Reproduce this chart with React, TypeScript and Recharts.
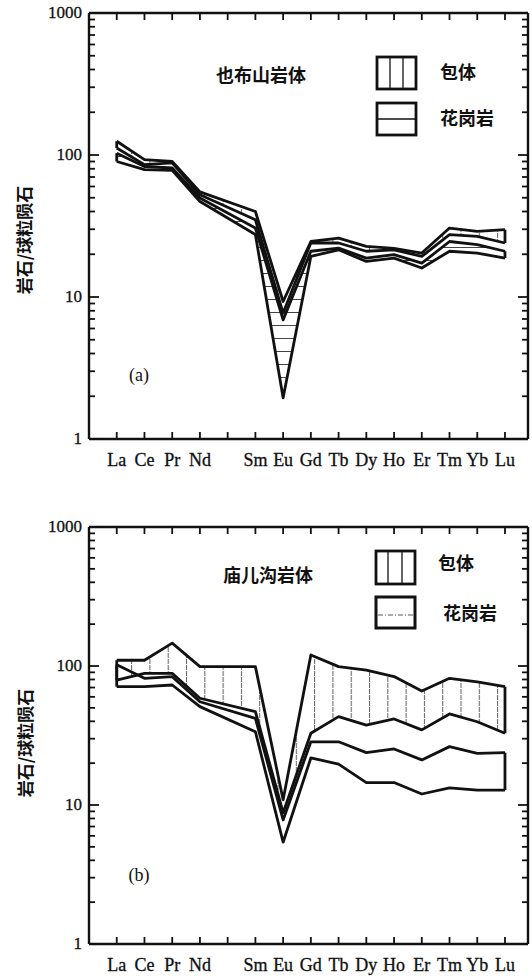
import React from 'react';
import { ComposedChart, Line, Area, XAxis, YAxis, ReferenceLine } from 'recharts';

// REE order incl. Pm (tick only, no data)
const REE = ['La', 'Ce', 'Pr', 'Nd', 'Pm', 'Sm', 'Eu', 'Gd', 'Tb', 'Dy', 'Ho', 'Er', 'Tm', 'Yb', 'Lu'];
const ELEMENTS = ['La', 'Ce', 'Pr', 'Nd', 'Sm', 'Eu', 'Gd', 'Tb', 'Dy', 'Ho', 'Er', 'Tm', 'Yb', 'Lu'];
const Y_TICKS = [1, 2, 3, 4, 5, 6, 7, 8, 9, 10, 20, 30, 40, 50, 60, 70, 80, 90, 100, 200, 300, 400, 500, 600, 700, 800, 900, 1000];
const Y_LABELS = [1, 10, 100, 1000];

// (a) 也布山岩体
const A_ENCLAVE_HI = [125, 92.7, 90, 55, 40, 9.3, 24.6, 26, 22.7, 22, 20.4, 30.6, 29, 29.8];
const A_ENCLAVE_LO = [112, 85.5, 88, 52.5, 35, 7.7, 24, 24, 21, 21.5, 19.3, 27.5, 26.7, 24];
const A_GRANITE_HI = [103, 83, 81, 49.8, 30.6, 6.9, 21, 22.1, 18.8, 19.9, 17.3, 24.6, 23.4, 21];
const A_GRANITE_LO = [90, 78.8, 78, 47, 27.5, 1.95, 19.3, 21.5, 17.8, 18.8, 16, 21, 20.4, 18.8];

// (b) 庙儿沟岩体
const B_ENCLAVE_HI = [110, 110, 146, 99, 99, 10.9, 120, 99, 93.5, 84, 66, 81.5, 77, 71];
const B_ENCLAVE_LO = [79, 88.6, 88.6, 58.6, 46.9, 8.8, 32.8, 43.2, 37.6, 41.6, 34.7, 45.2, 39.7, 32.8];
const B_GRANITE_HI = [102, 81.5, 83.8, 55.3, 42, 7.8, 28.5, 28.5, 23.8, 25.3, 21.1, 26.3, 23.5, 23.8];
const B_GRANITE_LO = [71, 71, 73, 51, 33.7, 5.4, 21.8, 19.7, 14.5, 14.5, 12, 13.3, 12.8, 12.8];

const INK = '#111';
const SERIF = '"Liberation Serif", "DejaVu Serif", serif';
const CJK = '"Noto Sans CJK SC", "Noto Sans", sans-serif';
const X_DOMAIN = [-1, 14.83];
const X_TICKS = REE.map((_, i) => i);

const buildRows = (eHi: number[], eLo: number[], gHi: number[], gLo: number[]) =>
  ELEMENTS.map((el, i) => ({
    x: REE.indexOf(el),
    eHi: eHi[i],
    eLo: eLo[i],
    gHi: gHi[i],
    gLo: gLo[i],
    eBand: [eLo[i], eHi[i]],
    gBand: [gLo[i], gHi[i]],
  }));

const rowsA = buildRows(A_ENCLAVE_HI, A_ENCLAVE_LO, A_GRANITE_HI, A_GRANITE_LO);
const rowsB = buildRows(B_ENCLAVE_HI, B_ENCLAVE_LO, B_GRANITE_HI, B_GRANITE_LO);

const LeftTick = (p: any) => {
  const v = p.payload.value;
  const major = Y_LABELS.includes(v);
  return (
    <g>
      <line x1={p.x} x2={p.x + (major ? 10 : 6)} y1={p.y} y2={p.y} stroke={INK} strokeWidth={1.8} />
      {major && (
        <text x={p.x - 7} y={p.y + 5} textAnchor="end" fontFamily={SERIF} fontSize={17} fill={INK} stroke={INK} strokeWidth={0.3}>
          {v}
        </text>
      )}
    </g>
  );
};

const RightTick = (p: any) => {
  const major = Y_LABELS.includes(p.payload.value);
  return <line x1={p.x} x2={p.x - (major ? 10 : 6)} y1={p.y} y2={p.y} stroke={INK} strokeWidth={1.8} />;
};

const BottomTick = (p: any) => {
  const name = REE[p.payload.value];
  return (
    <g>
      <line x1={p.x} x2={p.x} y1={p.y} y2={p.y - 7} stroke={INK} strokeWidth={1.8} />
      {name !== 'Pm' && (
        <text x={p.x} y={p.y + 27} textAnchor="middle" fontFamily={SERIF} fontSize={18} fill={INK} stroke={INK} strokeWidth={0.3}>
          {name}
        </text>
      )}
    </g>
  );
};

const TopTick = (p: any) => <line x1={p.x} x2={p.x} y1={p.y} y2={p.y + 7} stroke={INK} strokeWidth={1.8} />;

const AXIS = { stroke: INK, strokeWidth: 2.4 };

const Panel = ({ rows, height, topH, bottomH, graniteFill }: any) => {
  const first = rows[0];
  const last = rows[rows.length - 1];
  const edge = (x: number, lo: number, hi: number, key: string) => (
    <ReferenceLine
      key={key}
      xAxisId="b"
      yAxisId="l"
      segment={[{ x, y: lo }, { x, y: hi }]}
      stroke={INK}
      strokeWidth={2.8}
      ifOverflow="visible"
    />
  );
  const line = (key: string) => (
    <Line
      key={key}
      xAxisId="b"
      yAxisId="l"
      dataKey={key}
      type="linear"
      stroke={INK}
      strokeWidth={2.8}
      strokeLinejoin="round"
      dot={false}
      isAnimationActive={false}
    />
  );
  return (
    <ComposedChart width={532} height={height} data={rows} margin={{ top: 0, right: 0, bottom: 0, left: 0 }}>
      <XAxis
        xAxisId="b"
        type="number"
        dataKey="x"
        domain={X_DOMAIN}
        allowDataOverflow
        ticks={X_TICKS}
        interval={0}
        orientation="bottom"
        height={bottomH}
        tickSize={0}
        tickMargin={0}
        tickLine={false}
        tick={<BottomTick />}
        axisLine={AXIS}
      />
      <XAxis
        xAxisId="t"
        type="number"
        dataKey="x"
        domain={X_DOMAIN}
        allowDataOverflow
        ticks={X_TICKS}
        interval={0}
        orientation="top"
        height={topH}
        tickSize={0}
        tickMargin={0}
        tickLine={false}
        tick={<TopTick />}
        axisLine={AXIS}
      />
      <YAxis
        yAxisId="l"
        scale="log"
        type="number"
        domain={[1, 1000]}
        allowDataOverflow
        ticks={Y_TICKS}
        interval={0}
        width={89}
        tickSize={0}
        tickMargin={0}
        tickLine={false}
        tick={<LeftTick />}
        axisLine={AXIS}
      />
      <YAxis
        yAxisId="r"
        orientation="right"
        scale="log"
        type="number"
        domain={[1, 1000]}
        allowDataOverflow
        ticks={Y_TICKS}
        interval={0}
        width={4}
        tickSize={0}
        tickMargin={0}
        tickLine={false}
        tick={<RightTick />}
        axisLine={AXIS}
      />
      <Area xAxisId="b" yAxisId="l" dataKey="eBand" type="linear" fill="url(#hatchV)" fillOpacity={1} stroke="none" isAnimationActive={false} />
      <Area xAxisId="b" yAxisId="l" dataKey="gBand" type="linear" fill={graniteFill} fillOpacity={1} stroke="none" isAnimationActive={false} />
      {line('eHi')}
      {line('eLo')}
      {line('gHi')}
      {line('gLo')}
      {edge(first.x, first.eLo, first.eHi, 'e0')}
      {edge(first.x, first.gLo, first.gHi, 'g0')}
      {edge(last.x, last.eLo, last.eHi, 'e1')}
      {edge(last.x, last.gLo, last.gHi, 'g1')}
    </ComposedChart>
  );
};

const cjkText = { fontFamily: CJK, fontWeight: 700, fontSize: 18, fill: INK } as const;

const Overlay = () => (
  <svg width={532} height={976} style={{ position: 'absolute', left: 0, top: 0, pointerEvents: 'none' }}>
    <defs>
      <pattern id="hatchV" patternUnits="userSpaceOnUse" width={18.3} height={6} x={3}>
        <line x1={0.5} y1={0} x2={0.5} y2={6} stroke="#666" strokeWidth={1.1} strokeDasharray="4 1" />
      </pattern>
      <pattern id="hatchH" patternUnits="userSpaceOnUse" width={10} height={13}>
        <line x1={0} y1={0.5} x2={10} y2={0.5} stroke="#444" strokeWidth={1} />
      </pattern>
    </defs>

    {/* panel (a) */}
    <text x={261} y={82} textAnchor="middle" {...cjkText}>也布山岩体</text>
    <rect x={377} y={57} width={39} height={32} fill="none" stroke={INK} strokeWidth={2.8} />
    <line x1={390} x2={390} y1={57} y2={89} stroke={INK} strokeWidth={1.3} />
    <line x1={403} x2={403} y1={57} y2={89} stroke={INK} strokeWidth={1.3} />
    <text x={440} y={79} {...cjkText}>包体</text>
    <rect x={377} y={103} width={39} height={32} fill="none" stroke={INK} strokeWidth={2.8} />
    <line x1={377} x2={416} y1={119} y2={119} stroke={INK} strokeWidth={1.5} />
    <text x={440} y={125} {...cjkText}>花岗岩</text>
    <text x={139} y={381} textAnchor="middle" fontFamily={SERIF} fontSize={18} fill={INK}>(a)</text>
    <text transform="translate(23,240) rotate(-90)" textAnchor="middle" dominantBaseline="central" {...cjkText} fontSize={17}>
      岩石/球粒陨石
    </text>

    {/* panel (b) */}
    <text x={268} y={582} textAnchor="middle" {...cjkText}>庙儿沟岩体</text>
    <rect x={376} y={551} width={39} height={33} fill="none" stroke={INK} strokeWidth={2.8} />
    <line x1={388} x2={388} y1={551} y2={584} stroke={INK} strokeWidth={1.3} />
    <line x1={402} x2={402} y1={551} y2={584} stroke={INK} strokeWidth={1.3} />
    <text x={438} y={570} {...cjkText}>包体</text>
    <rect x={376} y={597} width={39} height={31} fill="none" stroke={INK} strokeWidth={3} />
    <line x1={378} x2={413} y1={615} y2={615} stroke="#555" strokeWidth={1} strokeDasharray="5 2 1 2" />
    <text x={443} y={620} {...cjkText}>花岗岩</text>
    <text x={139} y={881} textAnchor="middle" fontFamily={SERIF} fontSize={18} fill={INK}>(b)</text>
    <text transform="translate(24,743) rotate(-90)" textAnchor="middle" dominantBaseline="central" {...cjkText} fontSize={17}>
      岩石/球粒陨石
    </text>
  </svg>
);

export default function App() {
  return (
    <div style={{ position: 'absolute', left: 0, top: 0, width: 532, height: 976, background: '#fff', overflow: 'hidden' }}>
      <div style={{ position: 'absolute', left: 0, top: 0 }}>
        <Panel rows={rowsA} height={480} topH={13} bottomH={41} graniteFill="url(#hatchH)" />
      </div>
      <div style={{ position: 'absolute', left: 0, top: 480 }}>
        <Panel rows={rowsB} height={496} topH={47} bottomH={32} graniteFill="none" />
      </div>
      <Overlay />
    </div>
  );
}
